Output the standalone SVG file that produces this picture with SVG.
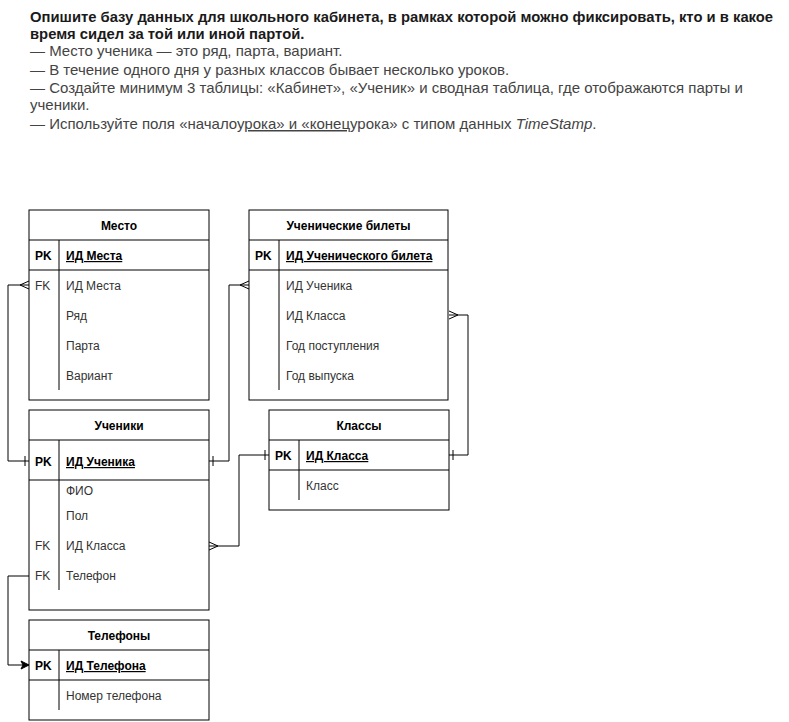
<svg xmlns="http://www.w3.org/2000/svg" width="789" height="722" viewBox="0 0 789 722">
<style>
.t{font-family:"Liberation Sans",Arial,sans-serif;font-size:15px;fill:#444}
.tb{font-family:"Liberation Sans",Arial,sans-serif;font-size:14.8px;font-weight:bold;fill:#1a1a1a}
.box{fill:#fff;stroke:#000;stroke-width:1}
.ln{stroke:#000;stroke-width:1;fill:none}
.h{font-family:"Liberation Sans",Arial,sans-serif;font-size:12px;font-weight:bold;fill:#000;text-anchor:middle}
.k{font-family:"Liberation Sans",Arial,sans-serif;font-size:12px;font-weight:bold;fill:#000}
.fk{font-family:"Liberation Sans",Arial,sans-serif;font-size:12px;fill:#333}
.pk{font-family:"Liberation Sans",Arial,sans-serif;font-size:12px;font-weight:bold;fill:#000;text-decoration:underline}
.f{font-family:"Liberation Sans",Arial,sans-serif;font-size:12px;fill:#333}
.c{stroke:#000;stroke-width:1;fill:none}
</style>
<defs>
<marker id="one" markerUnits="userSpaceOnUse" viewBox="-12 -7 14 14" refX="0" refY="0" markerWidth="14" markerHeight="14" orient="auto-start-reverse">
<path d="M-4,-5 V5" stroke="#000" stroke-width="1" fill="none"/>
</marker>
<marker id="many" markerUnits="userSpaceOnUse" viewBox="-12 -7 14 14" refX="0" refY="0" markerWidth="14" markerHeight="14" orient="auto-start-reverse">
<path d="M0,-4 L-9,0 L0,4" stroke="#000" stroke-width="1" fill="none"/>
</marker>
<marker id="arrow" markerUnits="userSpaceOnUse" viewBox="-12 -7 14 14" refX="0" refY="0" markerWidth="14" markerHeight="14" orient="auto-start-reverse">
<path d="M0,0 L-8,-4 L-6,0 L-8,4 Z" fill="#000" stroke="#000" stroke-width="1"/>
</marker>
</defs>
<rect width="789" height="722" fill="#fff"/>
<g id="task-text">
<text class="tb" x="30" y="22">Опишите базу данных для школьного кабинета, в рамках которой можно фиксировать, кто и в какое</text>
<text class="tb" x="30" y="39">время сидел за той или иной партой.</text>
<text class="t" x="30" y="56">— Место ученика — это ряд, парта, вариант.</text>
<text class="t" x="30" y="75">— В течение одного дня у разных классов бывает несколько уроков.</text>
<text class="t" x="30" y="93">— Создайте минимум 3 таблицы: «Кабинет», «Ученик» и сводная таблица, где отображаются парты и</text>
<text class="t" x="30" y="110">ученики.</text>
<text class="t" x="30" y="129">— Используйте поля «началоу<tspan text-decoration="underline">рока» и «конец</tspan>урока» с типом данных <tspan font-style="italic">TimeStamp</tspan>.</text>
</g>
<g id="connectors">
<path class="c" d="M29,461 H8 V285 H29" marker-start="url(#one)" marker-end="url(#many)"/>
<path class="c" d="M209,461 H229 V285 H249" marker-start="url(#one)" marker-end="url(#many)"/>
<path class="c" d="M449,455 H468 V315 H449" marker-start="url(#one)" marker-end="url(#many)"/>
<path class="c" d="M269,455 H239 V546 H209" marker-start="url(#one)" marker-end="url(#many)"/>
<path class="c" d="M29,576 H8 V665 H29" marker-end="url(#arrow)"/>
</g>
<g id="mesto">
<rect class="box" x="29" y="210" width="180" height="190"/>
<path class="ln" d="M29,240 H209 M29,270 H209 M59,240 V390"/>
<text class="h" x="119" y="230">Место</text>
<text class="k" x="35" y="260">PK</text>
<text class="pk" x="66" y="260">ИД Места</text>
<text class="fk" x="35" y="290">FK</text>
<text class="f" x="66" y="290">ИД Места</text>
<text class="f" x="66" y="320">Ряд</text>
<text class="f" x="66" y="350">Парта</text>
<text class="f" x="66" y="380">Вариант</text>
</g>
<g id="bilety">
<rect class="box" x="249" y="210" width="199" height="190"/>
<path class="ln" d="M249,240 H448 M249,270 H448 M279,240 V390"/>
<text class="h" x="348.5" y="230">Ученические билеты</text>
<text class="k" x="255" y="260">PK</text>
<text class="pk" x="286" y="260">ИД Ученического билета</text>
<text class="f" x="286" y="290">ИД Ученика</text>
<text class="f" x="286" y="320">ИД Класса</text>
<text class="f" x="286" y="350">Год поступления</text>
<text class="f" x="286" y="380">Год выпуска</text>
</g>
<g id="ucheniki">
<rect class="box" x="29" y="410" width="180" height="200"/>
<path class="ln" d="M29,440 H209 M29,480 H209 M59,440 V590"/>
<text class="h" x="119" y="430">Ученики</text>
<text class="k" x="35" y="466">PK</text>
<text class="pk" x="66" y="466">ИД Ученика</text>
<text class="f" x="66" y="495">ФИО</text>
<text class="f" x="66" y="520">Пол</text>
<text class="fk" x="35" y="550">FK</text>
<text class="f" x="66" y="550">ИД Класса</text>
<text class="fk" x="35" y="580">FK</text>
<text class="f" x="66" y="580">Телефон</text>
</g>
<g id="klassy">
<rect class="box" x="269" y="410" width="180" height="100"/>
<path class="ln" d="M269,440 H449 M269,470 H449 M299,440 V500"/>
<text class="h" x="359" y="430">Классы</text>
<text class="k" x="275" y="460">PK</text>
<text class="pk" x="306" y="460">ИД Класса</text>
<text class="f" x="306" y="490">Класс</text>
</g>
<g id="telefony">
<rect class="box" x="29" y="620" width="180" height="100"/>
<path class="ln" d="M29,650 H209 M29,680 H209 M59,650 V710"/>
<text class="h" x="119" y="640">Телефоны</text>
<text class="k" x="35" y="670">PK</text>
<text class="pk" x="66" y="670">ИД Телефона</text>
<text class="f" x="66" y="700">Номер телефона</text>
</g>
</svg>
